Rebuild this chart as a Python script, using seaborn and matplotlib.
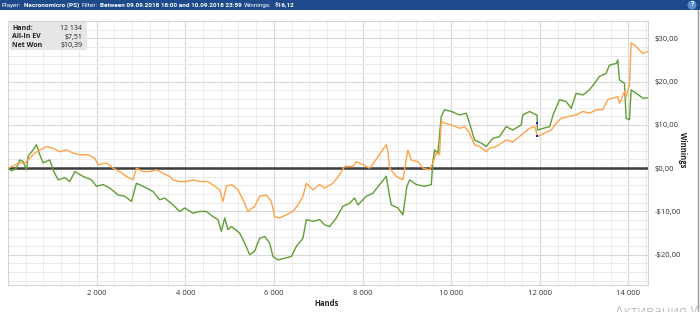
import numpy as np
import pandas as pd
import matplotlib
matplotlib.use("Agg")
import matplotlib.pyplot as plt
import seaborn as sns
from matplotlib.patches import Rectangle
from matplotlib.ticker import MultipleLocator, FuncFormatter

# ---------------- data ----------------
net_hands = [0, 79, 192, 266, 341, 417, 453, 566, 643, 717, 792, 943, 1017, 1130, 1281, 1394,
             1506, 1694, 1883, 1996, 2144, 2296, 2483, 2634, 2785, 2898, 3047, 3272, 3423, 3536,
             3723, 3874, 3987, 4174, 4325, 4476, 4625, 4738, 4815, 4889, 4963, 5040, 5227, 5340,
             5453, 5565, 5678, 5791, 5904, 5978, 6091, 6242, 6393, 6506, 6655, 6731, 6880, 7031,
             7144, 7257, 7408, 7557, 7708, 7821, 7895, 8084, 8233, 8384, 8535, 8610, 8648, 8797,
             8910, 9000, 9061, 9212, 9399, 9550, 9586, 9624, 9699, 9775, 9850, 10001, 10188, 10339,
             10414, 10526, 10677, 10790, 10939, 11090, 11241, 11389, 11579, 11616, 11767, 11918,
             11935, 11945, 12072, 12223, 12298, 12443, 12594, 12707, 12820, 12969, 13120, 13233,
             13345, 13496, 13571, 13722, 13758, 13796, 13908, 13947, 14021, 14060, 14172, 14321,
             14427]
net_won = [0, -0.6, 0, 1.9, 1.5, -0.4, 2.7, 4.2, 5.4, 3.1, 1.2, 1.9, -0.4, -2.7, -2.2, -3.1,
           -0.8, -1.9, -2.7, -4.2, -3.8, -4.6, -6.2, -6.5, -7.7, -3.5, -4.2, -5.4, -7.3, -6.9,
           -8.5, -10.0, -9.2, -10.4, -10.0, -10.0, -11.2, -11.9, -14.6, -11.5, -14.2, -13.5, -15.0, -17.3,
           -20.0, -19.2, -16.2, -15.8, -17.3, -20.4, -21.2, -20.8, -20.4, -18.1, -16.2, -11.9, -12.3, -11.9,
           -13.1, -13.5, -11.5, -8.8, -8.1, -6.9, -8.5, -6.5, -5.8, -3.8, -1.9, -6.5, -8.5, -9.2,
           -10.8, -4.2, -2.7, -3.8, -4.2, -3.8, 1.5, 4.2, 3.5, 11.9, 13.5, 13.1, 12.3, 12.7,
           10.4, 6.5, 5.8, 5.0, 6.9, 7.3, 9.6, 8.8, 10.0, 12.3, 13.1, 12.3,
           12.3, 8.8, 9.2, 9.6, 12.3, 15.8, 15.4, 13.8, 17.3, 16.9, 18.1, 19.6,
           21.2, 21.9, 23.8, 24.2, 25.0, 20.4, 19.6, 11.5, 11.2, 18.1, 17.3, 16.2,
           16.2]

ev_hands = [0, 266, 379, 492, 604, 717, 868, 1017, 1168, 1319, 1468, 1619, 1806, 1957, 2032,
            2221, 2370, 2521, 2672, 2821, 2898, 3047, 3198, 3349, 3498, 3649, 3723, 3874, 4025,
            4174, 4325, 4512, 4663, 4776, 4851, 4925, 5040, 5189, 5302, 5414, 5565, 5678, 5829,
            5942, 6016, 6129, 6280, 6429, 6542, 6655, 6731, 6880, 7031, 7144, 7331, 7482, 7595,
            7782, 7859, 8008, 8159, 8271, 8422, 8535, 8572, 8610, 8761, 8910, 9022, 9099, 9248,
            9361, 9512, 9586, 9662, 9737, 9775, 9850, 10001, 10188, 10301, 10414, 10526, 10640,
            10790, 10865, 11016, 11241, 11389, 11540, 11767, 11880, 11954, 12106, 12256, 12369,
            12482, 12632, 12820, 12969, 13120, 13271, 13420, 13533, 13646, 13758, 13796, 13834,
            13908, 13947, 14021, 14060, 14172, 14247, 14321, 14427]
all_in_ev = [0, 1.2, 1.2, 2.3, 3.5, 4.2, 5.0, 4.6, 3.8, 4.2, 3.5, 3.1, 3.1, 2.3, 0.8,
             1.2, 0, -0.8, -1.9, -2.7, 0, -0.8, -0.8, -0.4, -1.2, -1.9, -2.7, -3.1, -3.1,
             -2.7, -3.1, -3.1, -4.2, -5.0, -7.7, -4.2, -3.8, -5.0, -7.3, -10.0, -8.8, -6.5, -6.2,
             -7.7, -11.2, -11.5, -10.8, -10.0, -8.5, -6.5, -3.5, -5.0, -3.8, -4.6, -3.5, -1.5, 0.4,
             0.4, 1.5, 0.8, 0, 1.5, 3.8, 5.4, 3.8, 0, -1.9, -2.7, 4.2, 1.9, 1.5,
             0, -0.4, 1.2, 3.5, 3.1, 10.8, 10.4, 10.0, 9.2, 9.6, 8.1, 5.4, 5.0,
             3.8, 4.6, 5.0, 6.5, 6.1, 7.3, 9.2, 9.6, 7.3, 8.1, 8.8, 10.4,
             11.5, 11.9, 12.3, 13.1, 12.7, 13.5, 13.5, 15.8, 16.2, 16.5, 15.0, 15.8,
             17.7, 16.5, 19.2, 29.0, 28.1, 27.3, 26.5, 26.9]

sel_hand = 11940
sel_values = [10.39, 7.51]

x_ticks = [2000, 4000, 6000, 8000, 10000, 12000, 14000]
y_ticks = [-20, -10, 0, 10, 20, 30]

title_parts = [("Player:", "normal"), ("Necronomicro (PS)", "bold"), ("Filter:", "normal"),
               ("Between 09.09.2018 18:00 and 10.09.2018 23:59", "bold"),
               ("Winnings:", "normal"), ("$16,12", "bold")]
info_labels = ["Hand:", "All-In EV", "Net Won"]
info_values = ["12 134", "$7,51", "$10,39"]

# ---------------- figure ----------------
sns.set_theme(style="white")
plt.rcParams["font.family"] = ["Open Sans", "DejaVu Sans"]

W, H = 700, 312
fig = plt.figure(figsize=(W / 100, H / 100), dpi=100)
fig.patch.set_facecolor("white")

def fx(x):
    return x / W

def fy(y):
    return 1 - y / H

ax = fig.add_axes([fx(8), fy(285), fx(648) - fx(8), fy(21) - fy(285)])

df = pd.concat([
    pd.DataFrame({"Hands": net_hands, "Winnings": net_won, "series": "Net Won"}),
    pd.DataFrame({"Hands": ev_hands, "Winnings": all_in_ev, "series": "All-In EV"}),
])
sns.lineplot(data=df, x="Hands", y="Winnings", hue="series",
             palette={"Net Won": "#629d36", "All-In EV": "#ffa347"},
             estimator=None, sort=False, linewidth=1.0, legend=False, ax=ax, zorder=3)

ax.axhline(0, color="#3c3c3c", linewidth=1.8, zorder=2)
ax.scatter([sel_hand, sel_hand], sel_values, marker="s", s=4, color="#1a1aff", zorder=5, linewidths=0)

ax.set_xlim(0, 14440)
ax.set_ylim(-27, 34)

ax.xaxis.set_minor_locator(MultipleLocator(400))
ax.yaxis.set_minor_locator(MultipleLocator(2))
ax.set_xticks(x_ticks)
ax.set_yticks(y_ticks)
ax.xaxis.set_major_formatter(FuncFormatter(lambda v, p: f"{int(v):,}".replace(",", " ")))
ax.yaxis.set_major_formatter(FuncFormatter(
    lambda v, p: ("-$" if v < 0 else "$") + f"{abs(v):.2f}".replace(".", ",")))
ax.yaxis.tick_right()
ax.tick_params(axis="both", which="both", length=0, labelsize=5.5, colors="#333333")
ax.tick_params(axis="y", pad=4.5)
ax.tick_params(axis="x", pad=3.5)

ax.grid(which="minor", color="#ebebeb", linewidth=0.7)
ax.grid(which="major", color="#d9d9d9", linewidth=0.8)
ax.set_axisbelow(True)
for s in ax.spines.values():
    s.set_color("#d4d4d4")
    s.set_linewidth(0.8)

ax.set_xlabel("")
ax.set_ylabel("")
fig.text(fx(327), fy(304), "Hands", ha="center", va="center", fontsize=5.5,
         fontweight="bold", color="#222222")
fig.text(fx(683), fy(150), "Winnings", ha="center", va="center", fontsize=5.5,
         fontweight="bold", rotation=270, color="#222222")

# title bar
fig.patches.append(Rectangle((0, fy(10)), 1, 10 / H, transform=fig.transFigure,
                             facecolor="#1e4a8b", edgecolor="none", zorder=0))
fig.canvas.draw()
renderer = fig.canvas.get_renderer()
xpos = 2.0
for txt, wt in title_parts:
    t = fig.text(fx(xpos), fy(5.2), txt, ha="left", va="center", fontsize=4.6,
                 fontweight=wt, color="white", family=["Roboto", "DejaVu Sans"])
    bb = t.get_window_extent(renderer=renderer)
    xpos += bb.width + 2.5
fig.text(fx(692), fy(5), "?", ha="center", va="center", fontsize=5, color="white",
         fontweight="bold",
         bbox=dict(boxstyle="circle,pad=0.15", facecolor="#5b8fd0", edgecolor="none"))

# info box
fig.patches.append(Rectangle((fx(10), fy(50)), fx(87) - fx(10), (50 - 22) / H,
                             transform=fig.transFigure, facecolor="#e6e6e6",
                             edgecolor="none", zorder=4))
for i, (lab, val) in enumerate(zip(info_labels, info_values)):
    yy = 28.3 + i * 8.7
    fig.text(fx(12), fy(yy), lab, ha="left", va="center", fontsize=5.0,
             fontweight="bold", color="#222222", zorder=5)
    fig.text(fx(82.5), fy(yy), val, ha="right", va="center", fontsize=5.0,
             color="#222222", zorder=5)

# right frame edge and watermark
fig.add_artist(plt.Line2D([fx(698), fx(698)], [0, fy(10)], transform=fig.transFigure,
                          color="#9a9a9a", linewidth=1.0))
fig.text(fx(615), fy(315), "Активация Windows", ha="left", va="baseline", fontsize=10,
         color="#c4c4c4")

fig.savefig("out.png", dpi=100)
